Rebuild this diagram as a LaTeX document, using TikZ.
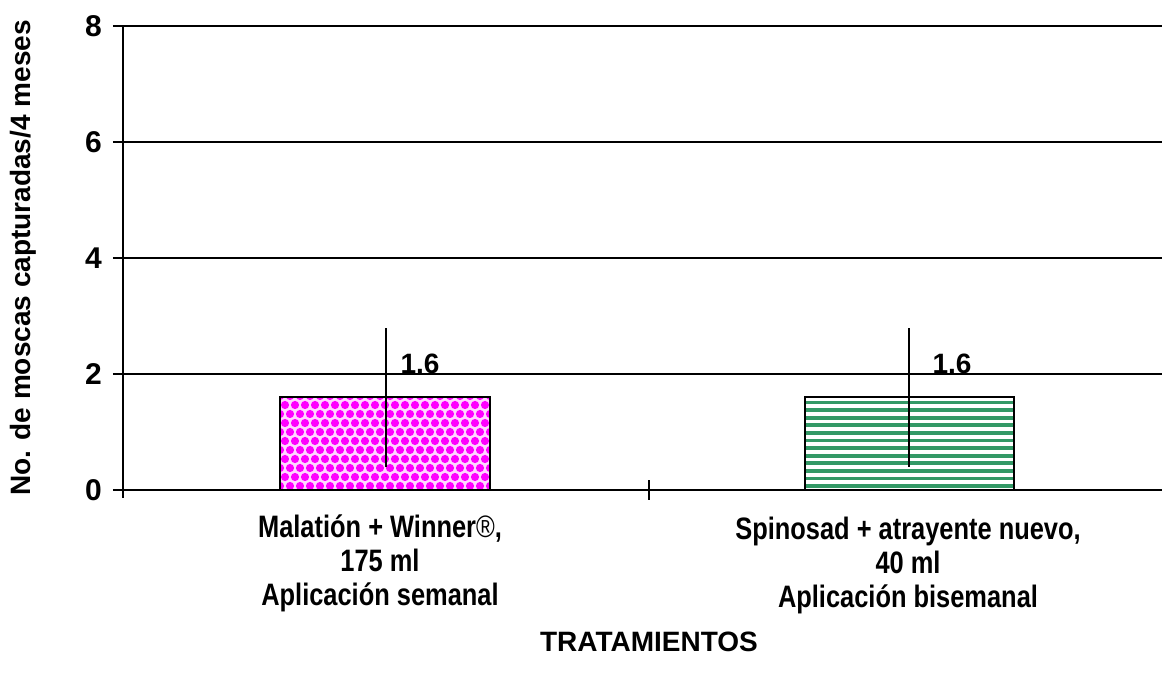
\documentclass[tikz,border=0pt]{standalone}
\usepackage{fontspec}
\setmainfont{Liberation Sans}
\newfontfamily\narrowfont[FakeStretch=0.82]{Liberation Sans}
\definecolor{barpink}{RGB}{255,0,255}
\definecolor{barpinklight}{RGB}{255,215,255}
\definecolor{bargreen}{RGB}{51,153,102}

\begin{document}
\begin{tikzpicture}[x=1pt,y=1pt,
    gridline/.style={black,line width=1.6pt},
    errbar/.style={black,line width=1.2pt},
    ticklabel/.style={anchor=east,inner sep=0pt,font=\bfseries\fontsize{30}{30}\selectfont},
    vallabel/.style={anchor=base,inner sep=0pt,font=\bfseries\fontsize{28}{28}\selectfont},
    catlabel/.style={anchor=north,align=center,inner sep=0pt,font=\narrowfont\bfseries\fontsize{31}{34}\selectfont},
    axislabel/.style={inner sep=0pt,font=\bfseries\fontsize{28}{28}\selectfont}]
    \useasboundingbox (-123,-192) rectangle (1039,490);
    % grid and axes
    \foreach \v in {0,2,4,6,8}
        \draw[gridline] (-10,\v*58) -- (1039,\v*58);
    \draw[gridline] (0,-8) -- (0,464);
    \draw[gridline] (526,-10) -- (526,10);
    \foreach \v in {0,2,4,6,8}
        \node[ticklabel] (t\v) at (-21,\v*58) {\v};
    % bar 1, dotted pink
    \begin{scope}
        \clip (157,0) rectangle (367,92.8);
        \fill[barpinklight] (157,0) rectangle (367,92.8);
        \foreach \r in {0,...,10}
            \foreach \c in {0,...,21}
                \fill[barpink] ({157+\c*10+mod(\r,2)*5},{\r*9+4}) circle (4.1);
    \end{scope}
    \draw[line width=1.4pt] (157,0) rectangle (367,92.8);
    % bar 2, green stripes
    \begin{scope}
        \clip (682,0) rectangle (891,92.8);
        \foreach \k in {0,...,12}
            \fill[bargreen] (682,{\k*7.6+2}) rectangle (891,{\k*7.6+5.8});
    \end{scope}
    \draw[line width=1.4pt] (682,0) rectangle (891,92.8);
    % error bars
    \foreach \xe in {263,786} {
        \draw[errbar] (\xe,{0.4*58}) -- (\xe,{2.8*58});
        \draw[line width=2pt] (\xe,92.8) -- (\xe+7,92.8);
    }
    \node[vallabel] (v1) at (297,116) {1.6};
    \node[vallabel] (v2) at (829,116) {1.6};
    % category and axis titles
    \node[catlabel] (c1) at (257,-25) {Malatión + Winner{\mdseries®},\\175 ml\\Aplicación semanal};
    \node[catlabel] (c2) at (785,-27) {Spinosad + atrayente nuevo,\\40 ml\\Aplicación bisemanal};
    \node[axislabel] (xl) at (526,-152) {TRATAMIENTOS};
    \node[axislabel,rotate=90] (yl) at (-100,232) {No. de moscas capturadas/4 meses};
\end{tikzpicture}
\end{document}
